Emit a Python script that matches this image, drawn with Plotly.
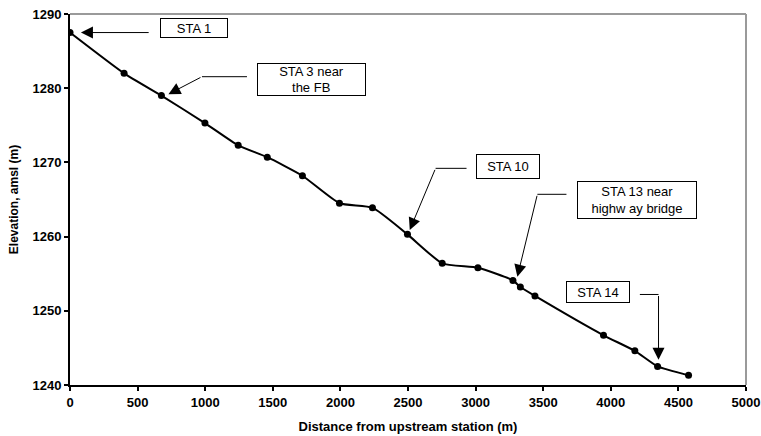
import plotly.graph_objects as go

# Data
distance = [0, 400, 676, 998, 1244, 1459, 1719, 1993, 2237, 2496, 2753, 3017, 3276, 3331, 3439, 3946, 4178, 4346, 4575]
elevation = [1287.5, 1282.0, 1279.0, 1275.3, 1272.3, 1270.7, 1268.2, 1264.5, 1263.9, 1260.3, 1256.4, 1255.8, 1254.1, 1253.2, 1252.0, 1246.7, 1244.6, 1242.5, 1241.3]

x_ticks = [0, 500, 1000, 1500, 2000, 2500, 3000, 3500, 4000, 4500, 5000]
y_ticks = [1240, 1250, 1260, 1270, 1280, 1290]

# label text, box center (x, y), box width/height px, leader elbow start/end x, leader y, arrow tip (x, y)
labels = [
    dict(text="STA 1", cx=919, cy=1288.1, w=68, h=20, x0=None, x1=593, ly=1287.5, tx=81, ty=1287.5),
    dict(text="STA 3 near<br>the FB", cx=1785, cy=1281.2, w=109, h=33, x0=1309, x1=976, ly=1281.55, tx=728, ty=1279.2),
    dict(text="STA 10", cx=3243, cy=1269.4, w=64, h=25, x0=2933, x1=2704, ly=1269.2, tx=2513, ty=1260.9),
    dict(text="STA 13 near<br>highw ay bridge", cx=4191, cy=1264.9, w=120, h=38, x0=3672, x1=3457, ly=1265.7, tx=3309, ty=1254.6),
    dict(text="STA 14", cx=3904, cy=1252.5, w=64, h=22, x0=4215, x1=4353, ly=1252.2, tx=4353, ty=1243.4),
]

FONT = "Arial, Liberation Sans, sans-serif"

fig = go.Figure()
fig.add_trace(go.Scatter(
    x=distance, y=elevation, mode="lines+markers",
    line=dict(color="black", width=2, shape="spline", smoothing=0.5),
    marker=dict(color="black", size=7),
    showlegend=False,
))

shapes = [
    dict(type="line", xref="paper", yref="paper", x0=0, x1=1, y0=1, y1=1, line=dict(color="#9a9a9a", width=2)),
    dict(type="line", xref="paper", yref="paper", x0=1, x1=1, y0=0, y1=1, line=dict(color="#9a9a9a", width=2)),
]
annotations = []
for lb in labels:
    annotations.append(dict(
        x=lb["cx"], y=lb["cy"], xref="x", yref="y", text=lb["text"], showarrow=False,
        font=dict(family=FONT, size=13, color="black"), bgcolor="white",
        bordercolor="black", borderwidth=1, borderpad=1,
        width=lb["w"] - 4, height=lb["h"] - 4, align="center", valign="middle",
    ))
    if lb["x0"] is not None:
        shapes.append(dict(type="line", xref="x", yref="y", x0=lb["x0"], x1=lb["x1"], y0=lb["ly"], y1=lb["ly"],
                           line=dict(color="black", width=1)))
    sx, sy = lb["x1"], lb["ly"]
    annotations.append(dict(
        x=lb["tx"], y=lb["ty"], xref="x", yref="y", ax=sx, ay=sy, axref="x", ayref="y",
        text="", showarrow=True, arrowhead=2, arrowsize=2.4, arrowwidth=1, arrowcolor="black",
        standoff=0, startstandoff=0,
    ))

fig.update_layout(
    width=761, height=436,
    margin=dict(l=70, r=15, t=14, b=51),
    paper_bgcolor="white", plot_bgcolor="white",
    font=dict(family=FONT, color="black"),
    shapes=shapes, annotations=annotations,
    xaxis=dict(
        range=[0, 5000], tickvals=x_ticks, ticktext=[str(v) for v in x_ticks],
        showgrid=False, zeroline=False, showline=True, linecolor="black", linewidth=2,
        ticks="outside", ticklen=4, tickwidth=2, tickcolor="black", automargin=False,
        ticklabeloverflow="allow",
        tickfont=dict(family=FONT, size=13, color="black", weight="bold"),
        title=dict(text="<b>Distance from upstream station (m)</b>", font=dict(family=FONT, size=13), standoff=13),
    ),
    yaxis=dict(
        range=[1240, 1290], tickvals=y_ticks, ticktext=[str(v) for v in y_ticks],
        showgrid=False, zeroline=False, showline=True, linecolor="black", linewidth=2,
        ticks="outside", ticklen=4, tickwidth=2, tickcolor="black", automargin=False,
        ticklabeloverflow="allow",
        tickfont=dict(family=FONT, size=13, color="black", weight="bold"),
        title=dict(text="<b>Elevation, amsl (m)</b>", font=dict(family=FONT, size=12), standoff=11),
    ),
)

fig.write_html(
    "out.html",
    config={"displayModeBar": False},
    post_script="document.body.style.margin='0';document.body.style.overflow='hidden';",
)
